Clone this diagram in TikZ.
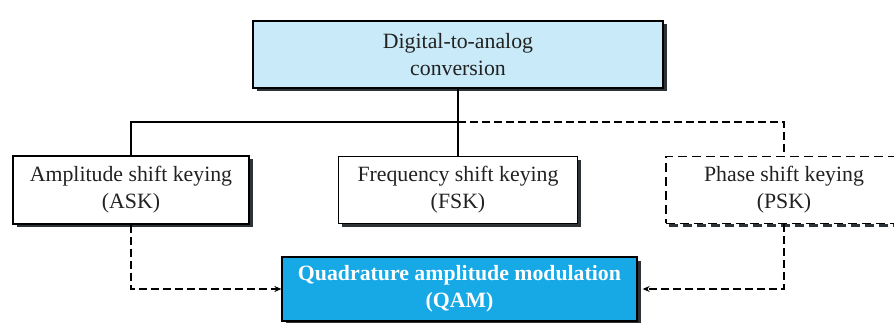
\documentclass[tikz,border=0pt]{standalone}
\usepackage{fontspec}
\setmainfont{Liberation Serif}
\usetikzlibrary{shadows,arrows.meta}
\definecolor{topfill}{HTML}{C9EAF8}
\definecolor{qamfill}{HTML}{17A8E6}
\definecolor{shadowc}{HTML}{2E3338}
\definecolor{txt}{HTML}{222222}
\tikzset{
  box/.style={draw=black, line width=1.3pt, fill=white, align=center, text=txt,
    font=\fontsize{21.8}{27}\selectfont, inner sep=0pt,
    drop shadow={shadow xshift=3.5pt, shadow yshift=-3.5pt, fill=shadowc, opacity=1}},
  dashbox/.style={draw=black, line width=1.3pt, fill=white, align=center, text=txt,
    font=\fontsize{21.8}{27}\selectfont, inner sep=0pt, dash pattern=on 9pt off 5pt},
  conn/.style={line width=1.2pt, draw=black},
  dconn/.style={conn, dash pattern=on 8pt off 4pt},
  tip/.style={-{Stealth[length=7pt,width=6pt]}}
}
\begin{document}
\begin{tikzpicture}[x=1pt,y=-1pt]
\path[use as bounding box, clip] (0,0) rectangle (894,323);
\fill[white] (0,0) rectangle (894,323);

\node[box, fill=topfill, minimum width=410pt, minimum height=67pt] (top) at (458,54.5)
  {Digital-to-analog\\conversion};
\node[box, minimum width=236pt, minimum height=68pt] (ask) at (131,190)
  {Amplitude shift keying\\(ASK)};
\node[box, minimum width=239pt, minimum height=67pt] (fsk) at (458,190)
  {Frequency shift keying\\(FSK)};
% PSK shadow (dashed)
\draw[line width=3.5pt, shadowc, dash pattern=on 9pt off 5pt]
  (669,225.5) -- (903.5,225.5) -- (903.5,159);
\node[dashbox, minimum width=236pt, minimum height=67pt] (psk) at (784,190)
  {Phase shift keying\\(PSK)};
\node[box, fill=qamfill, text=white, font=\fontsize{21.8}{27}\selectfont\bfseries,
  minimum width=355pt, minimum height=64pt] (qam) at (459.5,289)
  {Quadrature amplitude modulation\\(QAM)};

\coordinate (j) at (458,122);
\draw[conn] (top.south) -- (fsk.north);
\draw[conn] (ask.north) |- (j);
\draw[dconn] (j) -| (psk.north);
\draw[dconn, tip] (ask.south) |- (qam.west);
\draw[dconn, tip, shorten >=5pt] (psk.south) |- (qam.east);
\end{tikzpicture}
\end{document}
